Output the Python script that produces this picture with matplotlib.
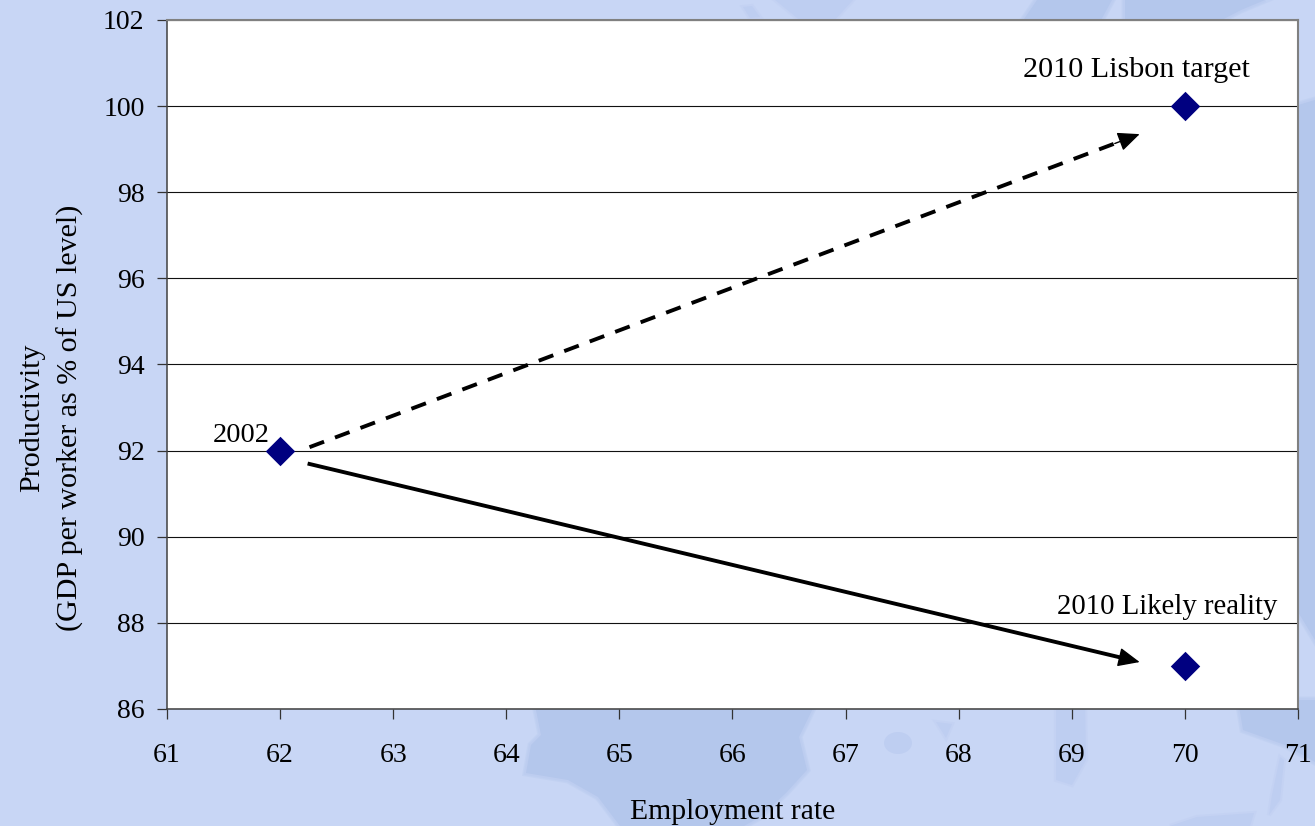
import matplotlib
matplotlib.use("Agg")
import matplotlib.pyplot as plt
from matplotlib.patches import Polygon, Ellipse

# Chart values
years = ["2002", "2010 Lisbon target", "2010 Likely reality"]
employment = [62, 70, 70]
productivity = [92, 100, 87]
x_ticks = list(range(61, 72))
y_ticks = list(range(86, 103, 2))

# Scenario arrows, in employment / productivity units
lisbon_arrow = [(62.26, 92.08), (69.6, 99.35)]
likely_arrow = [(62.26, 91.69), (69.6, 87.09)]

W, H = 1315, 826
BG = "#C8D6F5"
LAND = "#B4C7EC"
LAND_FAINT = "#BECEF1"

plt.rcParams["font.family"] = ["Liberation Serif", "DejaVu Serif"]
fig = plt.figure(figsize=(W / 100, H / 100), dpi=100, facecolor=BG)

# Faint map of landmasses behind the plot, in pixel units
bg = fig.add_axes([0, 0, 1, 1], zorder=0)
bg.set_xlim(0, W)
bg.set_ylim(H, 0)
bg.axis("off")
land_shapes = [
    [(534, 700), (817, 700), (799, 737), (807, 770), (786, 793), (760, 817), (744, 826),
     (620, 826), (598, 797), (568, 780), (526, 773), (531, 745), (541, 735)],
    [(1022, 22), (1037, 0), (1112, 0), (1100, 22)],
    [(1125, 22), (1125, 0), (1265, 0), (1241, 10), (1218, 22)],
    [(1298, 105), (1315, 100), (1315, 640), (1298, 612)],
    [(1238, 700), (1315, 700), (1315, 762), (1285, 745), (1243, 730)],
]
faint_shapes = [
    [(775, 0), (853, 0), (833, 22), (802, 22)],
    [(743, 7), (752, 6), (760, 17), (750, 18)],
    [(1056, 700), (1085, 700), (1086, 760), (1072, 785), (1056, 780)],
    [(936, 722), (952, 724), (946, 738), (941, 730)],
    [(1170, 826), (1197, 817), (1254, 813), (1250, 826)],
    [(1280, 757), (1284, 760), (1280, 800), (1269, 815), (1272, 795)],
]
# Wide translucent outlines under each shape feather its edge
for pts in land_shapes:
    for width in (5, 3):
        bg.add_patch(Polygon(pts, closed=True, facecolor="none", edgecolor=LAND,
                             alpha=0.3, lw=width))
    bg.add_patch(Polygon(pts, closed=True, facecolor=LAND, edgecolor="none"))
for pts in faint_shapes:
    bg.add_patch(Polygon(pts, closed=True, facecolor="none", edgecolor=LAND_FAINT,
                         alpha=0.4, lw=3))
    bg.add_patch(Polygon(pts, closed=True, facecolor=LAND_FAINT, edgecolor="none"))
bg.add_patch(Ellipse((898, 743), 28, 22, facecolor=LAND_FAINT, edgecolor="none"))

# Main plot area
left, right, top, bottom = 167, 1298, 20, 709
ax = fig.add_axes([left / W, 1 - bottom / H, (right - left) / W, (bottom - top) / H], zorder=1)
ax.set_facecolor("white")
ax.set_xlim(61, 71)
ax.set_ylim(86, 102)
ax.set_xticks(x_ticks)
ax.set_yticks(y_ticks)
ax.tick_params(axis="x", length=7.2, width=0.9, color="#333333", labelsize=20, pad=17)
ax.tick_params(axis="y", length=7.2, width=0.9, color="#333333", labelsize=20, pad=9)
ax.grid(axis="y", color="#111111", lw=0.8)
ax.set_axisbelow(True)
for side in ("top", "right"):
    ax.spines[side].set_color("#808080")
    ax.spines[side].set_linewidth(1.5)
for side in ("left", "bottom"):
    ax.spines[side].set_color("#404040")
    ax.spines[side].set_linewidth(1.1)

# Scenario arrows: shaft stops short of the tip, head drawn separately
for (start, end), style in ((lisbon_arrow, (0, (4.0, 3.0))), (likely_arrow, "-")):
    dx, dy = end[0] - start[0], end[1] - start[1]
    ax.plot([start[0], start[0] + dx * 0.985], [start[1], start[1] + dy * 0.985],
            color="black", lw=2.8, linestyle=style, zorder=3)
    ax.annotate("", xy=end, xytext=(start[0] + dx * 0.97, start[1] + dy * 0.97),
                arrowprops=dict(arrowstyle="-|>,head_length=0.75,head_width=0.33",
                                color="black", lw=1, shrinkA=0, shrinkB=0, mutation_scale=18),
                zorder=3)

ax.scatter(employment, productivity, marker="D", s=15 ** 2, color="#000080",
           linewidths=0, zorder=4, clip_on=False)

# Point labels
ax.text(69.57, 100.83, years[1], fontsize=21.7, ha="center", va="center", color="black")
ax.text(69.84, 88.37, years[2], fontsize=20.7, ha="center", va="center", color="black")
ax.text(61.91, 92.35, years[0], fontsize=20.5, ha="right", va="center", color="black")

# Axis titles
fig.text(733 / W, 1 - 812 / H, "Employment rate", fontsize=21.3, ha="center", va="center")
fig.text(51.5 / W, 1 - 418 / H, "Productivity\n(GDP per worker as % of US level)", fontsize=21.6,
         rotation=90, ha="center", va="center", multialignment="center", linespacing=1.55)

fig.savefig("out.png", dpi=100, facecolor=BG)
